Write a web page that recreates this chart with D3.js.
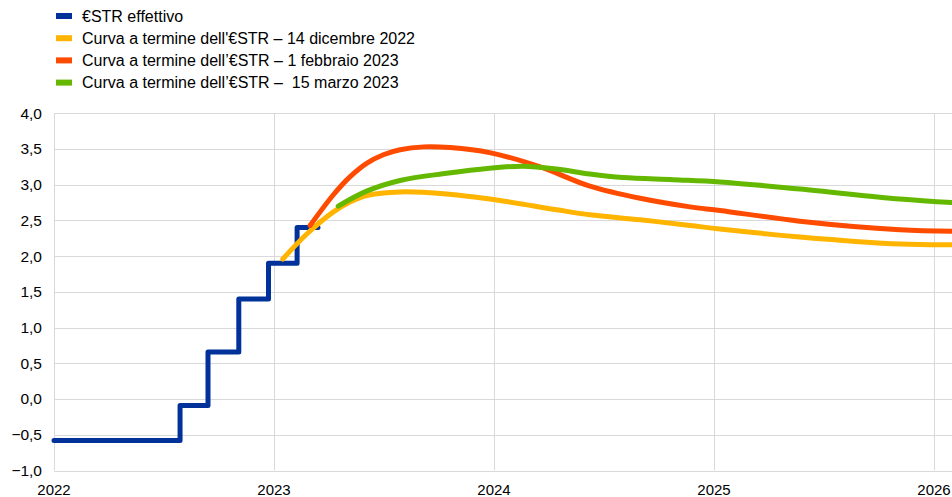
<!DOCTYPE html>
<html>
<head>
<meta charset="utf-8">
<script src="https://cdn.jsdelivr.net/npm/d3@7"></script>
<style>
  body { margin: 0; background: #fff; }
  text { font-family: "Liberation Sans", Arial, sans-serif; fill: #000; }
  .grid line { stroke: #d9d9d9; stroke-width: 1; }
  .line { fill: none; stroke-linecap: round; stroke-linejoin: round; }
</style>
</head>
<body>
<div id="graph"></div>
<script>
// data: x = decimal year, y = percent
var estrSteps = [
  [2022.0, -0.58], [2022.573, -0.09], [2022.70, 0.66], [2022.84, 1.40],
  [2022.975, 1.90], [2023.105, 2.40], [2023.20, 2.40]
];
var fwdDec = [
  [2023.04, 1.96], [2023.149, 2.31], [2023.27, 2.62], [2023.345, 2.76], [2023.421, 2.85],
  [2023.573, 2.90], [2023.785, 2.87], [2024.027, 2.78], [2024.285, 2.65],
  [2024.436, 2.58], [2024.664, 2.51], [2024.891, 2.43], [2025.027, 2.38], [2025.39, 2.27],
  [2025.845, 2.17], [2026.082, 2.16]
];
var fwdFeb = [
  [2023.164, 2.43], [2023.27, 2.86], [2023.345, 3.11], [2023.421, 3.30], [2023.497, 3.42],
  [2023.573, 3.49], [2023.68, 3.53], [2023.80, 3.52], [2023.98, 3.45],
  [2024.21, 3.25], [2024.436, 2.98], [2024.664, 2.81], [2024.891, 2.69], [2025.027, 2.64],
  [2025.39, 2.49], [2025.845, 2.37], [2026.082, 2.35]
];
var fwdMar = [
  [2023.292, 2.70], [2023.421, 2.91], [2023.573, 3.06], [2023.785, 3.16], [2023.98, 3.23],
  [2024.132, 3.26], [2024.285, 3.22], [2024.436, 3.15], [2024.586, 3.10],
  [2024.814, 3.07], [2025.027, 3.04], [2025.39, 2.94], [2025.845, 2.80], [2026.082, 2.75]
];
var yTicks = [-1, -0.5, 0, 0.5, 1, 1.5, 2, 2.5, 3, 3.5, 4];
var xTicks = [2022, 2023, 2024, 2025, 2026];
var legendLabels = [
  "€STR effettivo",
  "Curva a termine dell'€STR – 14 dicembre 2022",
  "Curva a termine dell’€STR – 1 febbraio 2023",
  "Curva a termine dell’€STR –  15 marzo 2023"
];
var colors = ["#003299", "#ffb400", "#ff4b00", "#65b800"];

var W = 952, H = 497;
var x = d3.scaleLinear().domain([2022, 2026.08]).range([54, 951.6]);
var y = d3.scaleLinear().domain([-1, 4]).range([470.5, 113.3]);

var svg = d3.select("#graph").append("svg")
  .attr("width", W).attr("height", H);

// grid
var grid = svg.append("g").attr("class", "grid");
grid.selectAll(".hg").data(yTicks).enter().append("line")
  .attr("x1", x(2022)).attr("x2", W)
  .attr("y1", function(d) { return Math.round(y(d)) + 0.5; })
  .attr("y2", function(d) { return Math.round(y(d)) + 0.5; });
grid.selectAll(".vg").data(xTicks).enter().append("line")
  .attr("x1", function(d) { return Math.round(x(d)) + 0.5; })
  .attr("x2", function(d) { return Math.round(x(d)) + 0.5; })
  .attr("y1", y(4)).attr("y2", y(-1));

// axes labels
var fmt = function(d) { return d3.format(".1f")(d).replace(".", ","); };
svg.append("g").selectAll("text").data(yTicks).enter().append("text")
  .attr("x", 42).attr("y", function(d) { return y(d); })
  .attr("dy", "0.35em").attr("text-anchor", "end")
  .style("font-size", "15.5px").text(fmt);
svg.append("g").selectAll("text").data(xTicks).enter().append("text")
  .attr("x", function(d) { return x(d); }).attr("y", 495)
  .attr("text-anchor", "middle").style("font-size", "15px")
  .text(function(d) { return d; });

var line = d3.line()
  .x(function(d) { return x(d[0]); })
  .y(function(d) { return y(d[1]); })
  .curve(d3.curveStepAfter);

svg.append("path").attr("class", "line")
  .attr("d", line(estrSteps))
  .attr("stroke", colors[0]).attr("stroke-width", 5)
  .attr("stroke-linecap", "butt").attr("stroke-linejoin", "miter");

var smooth = d3.line()
  .x(function(d) { return x(d[0]); })
  .y(function(d) { return y(d[1]); })
  .curve(d3.curveCatmullRom.alpha(0.5));

[fwdDec, fwdFeb, fwdMar].forEach(function(s, i) {
  svg.append("path").attr("class", "line")
    .attr("d", smooth(s))
    .attr("stroke", colors[i + 1]).attr("stroke-width", 5);
});

// legend
var leg = svg.append("g").selectAll("g").data(legendLabels).enter().append("g")
  .attr("transform", function(d, i) { return "translate(0," + (16 + i * 22.2) + ")"; });
leg.append("rect").attr("x", 56).attr("y", -3).attr("width", 16).attr("height", 6)
  .attr("fill", function(d, i) { return colors[i]; });
leg.append("text").attr("x", 82).attr("dy", "0.35em")
  .style("font-size", "16px").style("white-space", "pre")
  .text(function(d) { return d; });
</script>
</body>
</html>
